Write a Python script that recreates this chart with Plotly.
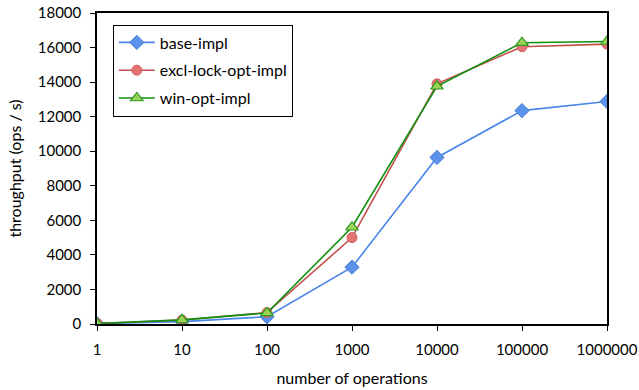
import plotly.graph_objects as go

# Operations per run (category axis) and measured throughput for each implementation
ops = ["1", "10", "100", "1000", "10000", "100000", "1000000"]
base_impl = [20, 140, 420, 3290, 9640, 12350, 12880]
excl_lock_opt_impl = [30, 230, 660, 5000, 13900, 16050, 16200]
win_opt_impl = [30, 240, 640, 5600, 13760, 16280, 16350]

FONT = "Lato"

fig = go.Figure()

fig.add_trace(go.Scatter(
    x=ops, y=base_impl, name="base-impl", mode="lines+markers", legendgroup="a",
    line=dict(color="#4A86E8", width=1.6),
    marker=dict(symbol="diamond", size=11, color="#5B93EC",
                line=dict(color="#4A7FD8", width=1)),
))
fig.add_trace(go.Scatter(
    x=ops, y=excl_lock_opt_impl, name="excl-lock-opt-impl", mode="lines+markers", legendgroup="b",
    line=dict(color="#C0504D", width=1.6),
    marker=dict(symbol="circle", size=10, color="#E57373",
                line=dict(color="#D06060", width=1)),
))
fig.add_trace(go.Scatter(
    x=ops, y=win_opt_impl, name="win-opt-impl", mode="lines+markers", legendgroup="c",
    line=dict(color="#109010", width=1.6),
    marker=dict(symbol="triangle-up", size=11, color="#9BD35A",
                line=dict(color="#2E9A1E", width=1.2)),
))

fig.update_layout(
    width=639, height=390,
    margin=dict(l=97, r=32, t=13, b=66, autoexpand=False),
    paper_bgcolor="white", plot_bgcolor="white",
    font=dict(family=FONT, size=15, color="#000000"),
    showlegend=True,
    legend=dict(
        x=0.031, y=0.963, xanchor="left", yanchor="top",
        bordercolor="#000000", borderwidth=1, bgcolor="white",
        font=dict(family=FONT, size=16),
        itemwidth=36, tracegroupgap=4,
    ),
    xaxis=dict(
        type="category", range=[0, 6],
        showline=True, linecolor="#000000", linewidth=1.5, mirror=True,
        ticks="outside", ticklen=5, tickcolor="#000000",
        ticklabelstandoff=6,
        showgrid=False, zeroline=False,
        title=dict(text="number of operations", font=dict(family=FONT, size=16), standoff=16),
    ),
    yaxis=dict(
        range=[0, 18000], dtick=2000, tickformat="d",
        showline=True, linecolor="#000000", linewidth=1.5, mirror=True,
        ticks="outside", ticklen=5, tickcolor="#000000",
        ticklabelstandoff=6,
        showgrid=False, zeroline=False,
        title=dict(text="throughput (ops / s)", font=dict(family=FONT, size=16), standoff=12),
    ),
)

fig.write_html("out.html")
